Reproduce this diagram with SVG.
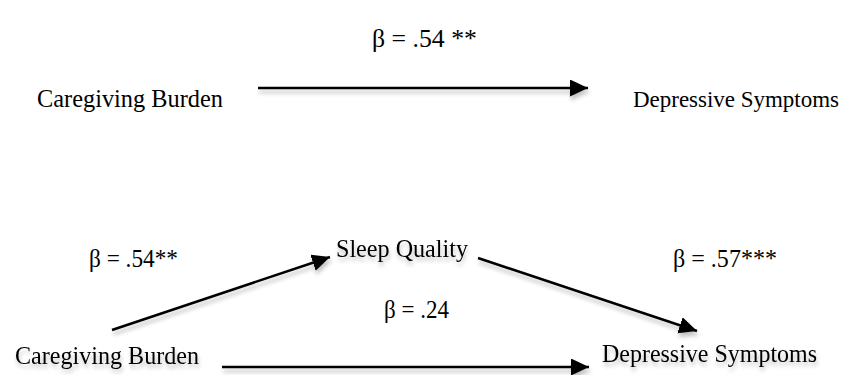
<svg xmlns="http://www.w3.org/2000/svg" width="853" height="375" viewBox="0 0 853 375">
  <style>
    text { font-family: "Liberation Serif", "Times New Roman", serif; font-size: 26px; fill: #000; }
    .edge { stroke: #000; stroke-width: 2.5; fill: none; marker-end: url(#arrow); }
    .sh { filter: url(#shadow); }
  </style>
  <defs>
    <marker id="arrow" markerUnits="userSpaceOnUse" markerWidth="20" markerHeight="18" refX="18" refY="8.5" orient="auto">
      <path d="M0,0 L18,8.5 L0,17 Z" fill="#000"/>
    </marker>
    <filter id="shadow" x="-10%" y="-50%" width="120%" height="250%">
      <feGaussianBlur in="SourceAlpha" stdDeviation="2"/>
      <feOffset dx="1" dy="4" result="b"/>
      <feComponentTransfer><feFuncA type="linear" slope="0.25"/></feComponentTransfer>
      <feMerge><feMergeNode/><feMergeNode in="SourceGraphic"/></feMerge>
    </filter>
  </defs>

  <g id="connectors" class="sh">
    <line class="edge" x1="258" y1="88" x2="588" y2="88"/>
    <line class="edge" x1="112" y1="330" x2="330" y2="257"/>
    <line class="edge" x1="478" y1="258" x2="697" y2="331"/>
    <line class="edge" x1="222" y1="367" x2="589" y2="367"/>
  </g>

  <g id="top-caregiving"><text x="37" y="107" textLength="186" lengthAdjust="spacingAndGlyphs">Caregiving Burden</text></g>
  <g id="top-depressive"><text x="633" y="107" style="font-size:24px" textLength="206" lengthAdjust="spacingAndGlyphs">Depressive Symptoms</text></g>
  <g id="top-beta"><text x="372" y="47" textLength="105" lengthAdjust="spacingAndGlyphs">β = .54 **</text></g>

  <g id="sleep-quality" class="sh"><text x="336" y="257" textLength="132" lengthAdjust="spacingAndGlyphs">Sleep Quality</text></g>
  <g id="beta-a"><text x="89" y="267" textLength="89" lengthAdjust="spacingAndGlyphs">β = .54**</text></g>
  <g id="beta-b"><text x="673" y="267" textLength="104" lengthAdjust="spacingAndGlyphs">β = .57***</text></g>
  <g id="beta-c"><text x="384" y="318" textLength="65" lengthAdjust="spacingAndGlyphs">β = .24</text></g>
  <g id="bottom-caregiving" class="sh"><text x="15" y="364" textLength="184" lengthAdjust="spacingAndGlyphs">Caregiving Burden</text></g>
  <g id="bottom-depressive" class="sh"><text x="602" y="362" textLength="215" lengthAdjust="spacingAndGlyphs">Depressive Symptoms</text></g>
</svg>
